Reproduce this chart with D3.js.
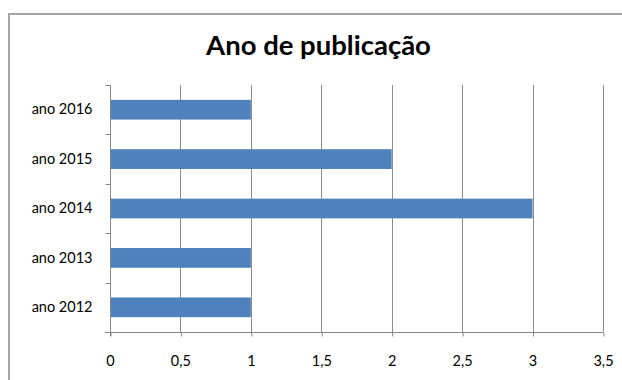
<!DOCTYPE html>
<html>
<head>
<meta charset="utf-8">
<script src="https://cdn.jsdelivr.net/npm/d3@7"></script>
<style>
  html, body { margin: 0; padding: 0; background: #fff; overflow: hidden; }
  svg { display: block; }
</style>
</head>
<body>
<svg id="chart" width="622" height="380"></svg>
<script>
const categories = ["ano 2012", "ano 2013", "ano 2014", "ano 2015", "ano 2016"];
const values = [1, 1, 3, 2, 1];
const xTicks = [0, 0.5, 1, 1.5, 2, 2.5, 3, 3.5];
const titleText = "Ano de publicação";

const svg = d3.select("#chart");
const W = 622, H = 380;
const plot = { left: 110, right: 603, top: 85, bottom: 332 };
const FONT = "Lato, 'Open Sans', sans-serif";

// outer chart border (only top and left edges are in view)
svg.append("line")
  .attr("x1", 9).attr("x2", W).attr("y1", 14).attr("y2", 14)
  .attr("stroke", "#a6a6a6").attr("stroke-width", 2);
svg.append("line")
  .attr("x1", 9).attr("x2", 9).attr("y1", 13).attr("y2", H)
  .attr("stroke", "#a6a6a6").attr("stroke-width", 2);

svg.append("text")
  .attr("x", 318.5).attr("y", 55)
  .attr("text-anchor", "middle")
  .attr("font-family", FONT)
  .attr("font-weight", "bold")
  .attr("font-size", 27.5)
  .attr("fill", "#000")
  .text(titleText);

const x = d3.scaleLinear().domain([0, 3.5]).range([plot.left, plot.right]);
const y = d3.scaleBand()
  .domain(categories.slice().reverse())
  .range([plot.top, plot.bottom])
  .paddingInner(0.6)
  .paddingOuter(0.3);

// vertical gridlines
svg.append("g")
  .selectAll("line")
  .data(xTicks.filter(d => d > 0))
  .join("line")
  .attr("x1", d => Math.round(x(d)) + 0.5)
  .attr("x2", d => Math.round(x(d)) + 0.5)
  .attr("y1", plot.top)
  .attr("y2", plot.bottom)
  .attr("stroke", "#8c8c8c")
  .attr("stroke-width", 1);

// bars
svg.append("g")
  .selectAll("rect")
  .data(categories.map((c, i) => ({ c, v: values[i] })))
  .join("rect")
  .attr("x", x(0))
  .attr("y", d => y(d.c))
  .attr("width", d => x(d.v) - x(0))
  .attr("height", y.bandwidth())
  .attr("fill", "#4f81bd");

// x axis
const xAxis = d3.axisBottom(x)
  .tickValues(xTicks)
  .tickSize(4)
  .tickPadding(19)
  .tickFormat(d => d3.format("")(d).replace(".", ","));
const gx = svg.append("g")
  .attr("transform", `translate(0,${plot.bottom + 0.5})`)
  .call(xAxis);
gx.select(".domain").remove();
gx.append("line")
  .attr("x1", plot.left - 5).attr("x2", plot.right + 0.5)
  .attr("y1", 0).attr("y2", 0)
  .attr("stroke", "#868686");
gx.selectAll(".tick line").attr("stroke", "#868686")
  .attr("transform", "translate(0.5,0)");
gx.selectAll(".tick text")
  .attr("font-family", FONT)
  .attr("font-size", 14.5)
  .attr("fill", "#000");

// y axis
const yAxis = d3.axisLeft(y).tickSize(0).tickPadding(18);
const gy = svg.append("g")
  .attr("transform", `translate(${plot.left + 0.5},0)`)
  .call(yAxis);
gy.select(".domain").remove();
gy.append("line")
  .attr("x1", 0).attr("x2", 0)
  .attr("y1", plot.top).attr("y2", plot.bottom + 4)
  .attr("stroke", "#868686");
const sepY = d3.range(categories.length + 1).map(i => plot.top + i * y.step());
gy.append("g").selectAll("line")
  .data(sepY)
  .join("line")
  .attr("x1", -5).attr("x2", 0)
  .attr("y1", d => Math.round(d) + 0.5).attr("y2", d => Math.round(d) + 0.5)
  .attr("stroke", "#868686");
gy.selectAll(".tick text")
  .attr("font-family", FONT)
  .attr("font-size", 14.5)
  .attr("fill", "#000");
</script>
</body>
</html>
